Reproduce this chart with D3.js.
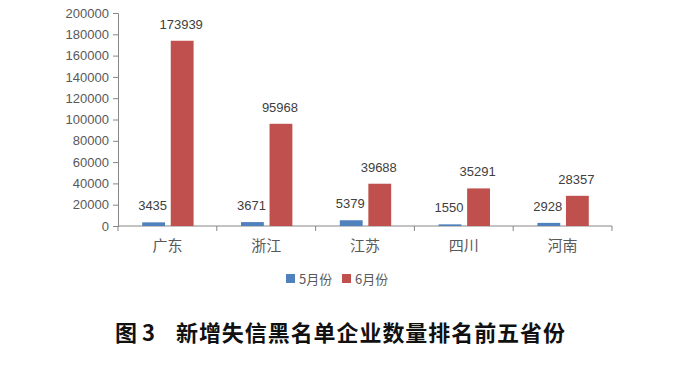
<!DOCTYPE html>
<html>
<head>
<meta charset="utf-8">
<script src="https://cdn.jsdelivr.net/npm/d3@7"></script>
<style>
  body { margin: 0; background: #fff; }
  svg text { font-family: "Microsoft YaHei", "Noto Sans CJK SC", "Noto Sans", sans-serif; }
</style>
</head>
<body>
<svg id="chart" width="700" height="367"></svg>
<script>
const provinces = ["广东", "浙江", "江苏", "四川", "河南"];
const mayValues = [3435, 3671, 5379, 1550, 2928];
const juneValues = [173939, 95968, 39688, 35291, 28357];
const seriesNames = ["5月份", "6月份"];
const seriesColors = ["#4F81BD", "#C0504D"];
const yTicks = [0, 20000, 40000, 60000, 80000, 100000, 120000, 140000, 160000, 180000, 200000];
const titleLabel = "图 3";
const titleText = "新增失信黑名单企业数量排名前五省份";

const svg = d3.select("#chart");
const axisColor = "#868686";
const textColor = "#595959";

const x0 = d3.scaleBand().domain(provinces).range([118, 612]);
const y = d3.scaleLinear().domain([0, 200000]).range([226, 13]);

// y axis
const yAxis = svg.append("g").attr("transform", "translate(118,0)")
  .call(d3.axisLeft(y).tickValues(yTicks).tickSize(5).tickFormat(d3.format("d")));
yAxis.select(".domain").attr("stroke", axisColor);
yAxis.selectAll(".tick line").attr("stroke", axisColor);
yAxis.selectAll(".tick text").attr("fill", textColor).attr("font-size", 13)
  .attr("x", -9).style("font-family", "'Liberation Sans', Arial, sans-serif");

// x axis
const xAxis = svg.append("g").attr("transform", "translate(0,226)");
xAxis.append("line").attr("x1", 118).attr("x2", 612).attr("stroke", axisColor);
const bounds = provinces.map(p => x0(p)).concat([x0.range()[1]]);
xAxis.selectAll("line.tk").data(bounds).join("line").attr("class", "tk")
  .attr("x1", d => d).attr("x2", d => d).attr("y1", 0).attr("y2", 5).attr("stroke", axisColor);
xAxis.selectAll("text").data(provinces).join("text")
  .attr("x", d => x0(d) + x0.bandwidth() / 2).attr("y", 25)
  .attr("text-anchor", "middle").attr("fill", textColor).attr("font-size", 15)
  .text(d => d);

// bars
const rows = provinces.map((p, i) => ({ p, vals: [mayValues[i], juneValues[i]] }));
const groups = svg.append("g").selectAll("g").data(rows).join("g")
  .attr("transform", d => `translate(${x0(d.p)},0)`);
const bw = x0.bandwidth();
const xs = d3.scaleBand().domain(seriesNames).range([bw * 0.245, bw * 0.765]).paddingInner(0.2);
groups.selectAll("rect").data(d => d.vals.map((v, k) => ({ v, k }))).join("rect")
  .attr("x", d => xs(seriesNames[d.k]))
  .attr("width", xs.bandwidth())
  .attr("y", d => y(d.v))
  .attr("height", d => y(0) - y(d.v))
  .attr("fill", d => seriesColors[d.k]);
groups.selectAll("text").data(d => d.vals.map((v, k) => ({ v, k }))).join("text")
  .attr("x", d => xs(seriesNames[d.k]) + xs.bandwidth() / 2 - 1)
  .attr("y", d => y(d.v) - 12)
  .attr("text-anchor", "middle").attr("fill", "#404040").attr("font-size", 13)
  .style("font-family", "'Liberation Sans', Arial, sans-serif")
  .text(d => d.v);

// legend
const legend = svg.append("g").attr("transform", "translate(286,279)");
const legendX = [0, 56];
seriesNames.forEach((s, k) => {
  legend.append("rect").attr("x", legendX[k]).attr("y", -5).attr("width", 9).attr("height", 9)
    .attr("fill", seriesColors[k]);
  legend.append("text").attr("x", legendX[k] + 13).attr("y", 5)
    .attr("fill", textColor).attr("font-size", 13).text(s);
});

// caption
const cap = svg.append("g").attr("transform", "translate(0,341)");
cap.append("text").attr("x", 115).attr("font-size", 22).attr("font-weight", "bold")
  .attr("fill", "#111").text(titleLabel);
cap.append("text").attr("x", 176).attr("font-size", 22).attr("font-weight", "bold")
  .attr("fill", "#111").attr("textLength", 389).attr("lengthAdjust", "spacing").text(titleText);
</script>
</body>
</html>
